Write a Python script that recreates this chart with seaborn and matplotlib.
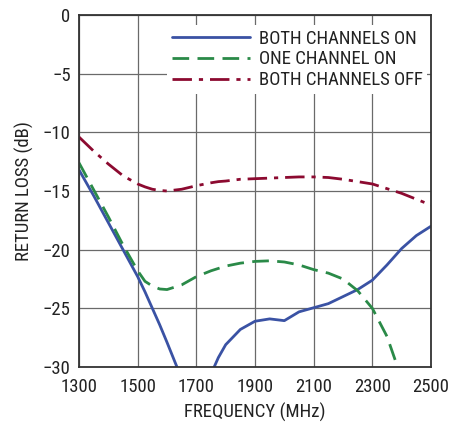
import pandas as pd
import matplotlib
matplotlib.use("Agg")
import matplotlib.pyplot as plt
import seaborn as sns

# frequency grid (MHz) and return loss (dB)
freq = [1300, 1350, 1400, 1450, 1500, 1525, 1550, 1575, 1600, 1650, 1700, 1750, 1775, 1800, 1850,
        1900, 1950, 2000, 2050, 2100, 2150, 2200, 2250, 2300, 2350, 2400, 2450, 2500]

both_on = [-13.2, -15.4, -17.7, -20.0, -22.3, -23.6, -25.0, -26.4, -27.9, -31.0, -33.0, -30.6, -29.2, -28.1, -26.8,
           -26.1, -25.9, -26.05, -25.3, -24.95, -24.6, -24.0, -23.4, -22.6, -21.3, -19.9, -18.8, -18.0]
one_on = [-12.6, -14.9, -17.2, -19.6, -21.8, -22.7, -23.1, -23.35, -23.4, -23.0, -22.3, -21.8, -21.6, -21.4, -21.15,
          -21.0, -20.95, -21.05, -21.3, -21.7, -22.0, -22.5, -23.5, -25.0, -27.4, -31.0, -35.0, -40.0]
both_off = [-10.4, -11.6, -12.7, -13.7, -14.4, -14.65, -14.85, -14.95, -15.0, -14.85, -14.55, -14.3, -14.2, -14.15, -14.0,
            -13.95, -13.9, -13.85, -13.8, -13.8, -13.85, -14.0, -14.2, -14.4, -14.8, -15.2, -15.7, -16.2]

labels = ["BOTH CHANNELS ON", "ONE CHANNEL ON", "BOTH CHANNELS OFF"]

sns.set_style("white")
plt.rcParams['font.family'] = ['Roboto Condensed', 'DejaVu Sans']

fig = plt.figure(figsize=(4.5, 4.23), dpi=100)
ax = fig.add_axes([0.1756, 0.1324, 0.7822, 0.8321])

df = pd.DataFrame({"freq": freq, "on": both_on, "one": one_on, "off": both_off})

sns.lineplot(data=df, x="freq", y="on", ax=ax, color="#3a52a4", linewidth=2.0,
             estimator=None, sort=False, label=labels[0])
sns.lineplot(data=df, x="freq", y="one", ax=ax, color="#2a8a48", linewidth=2.0,
             linestyle=(0, (6, 3)), estimator=None, sort=False, label=labels[1])
sns.lineplot(data=df, x="freq", y="off", ax=ax, color="#8c0a30", linewidth=2.0,
             linestyle=(0, (7, 2.5, 1.5, 2.5)), estimator=None, sort=False, label=labels[2])

ax.set_xlim(1300, 2500)
ax.set_ylim(-30, 0)
ax.set_xticks(range(1300, 2501, 200))
ax.set_yticks(range(-30, 1, 5))
ax.grid(True, color="#6a6a6a", linewidth=0.9)
ax.set_axisbelow(True)
for s in ax.spines.values():
    s.set_color("#333333")
    s.set_linewidth(1.3)
ax.tick_params(axis="y", length=0, pad=6, labelsize=13.5, colors="#222222")
ax.tick_params(axis="x", length=0, pad=8, labelsize=13.5, colors="#222222")

ax.set_xlabel("FREQUENCY (MHz)", fontsize=13.5, color="#222222", labelpad=5)
ax.set_ylabel("RETURN LOSS (dB)", fontsize=13.5, color="#222222", labelpad=6)

leg = ax.legend(loc="upper right", bbox_to_anchor=(0.99, 0.972), fontsize=13.5,
                frameon=True, fancybox=False, framealpha=1, handlelength=4.2,
                handletextpad=0.45, labelspacing=0.15, borderpad=0.25, borderaxespad=0)
leg.get_frame().set_edgecolor("none")
leg.get_frame().set_facecolor("white")
for t in leg.get_texts():
    t.set_color("#222222")

plt.savefig("out.png", dpi=100)
